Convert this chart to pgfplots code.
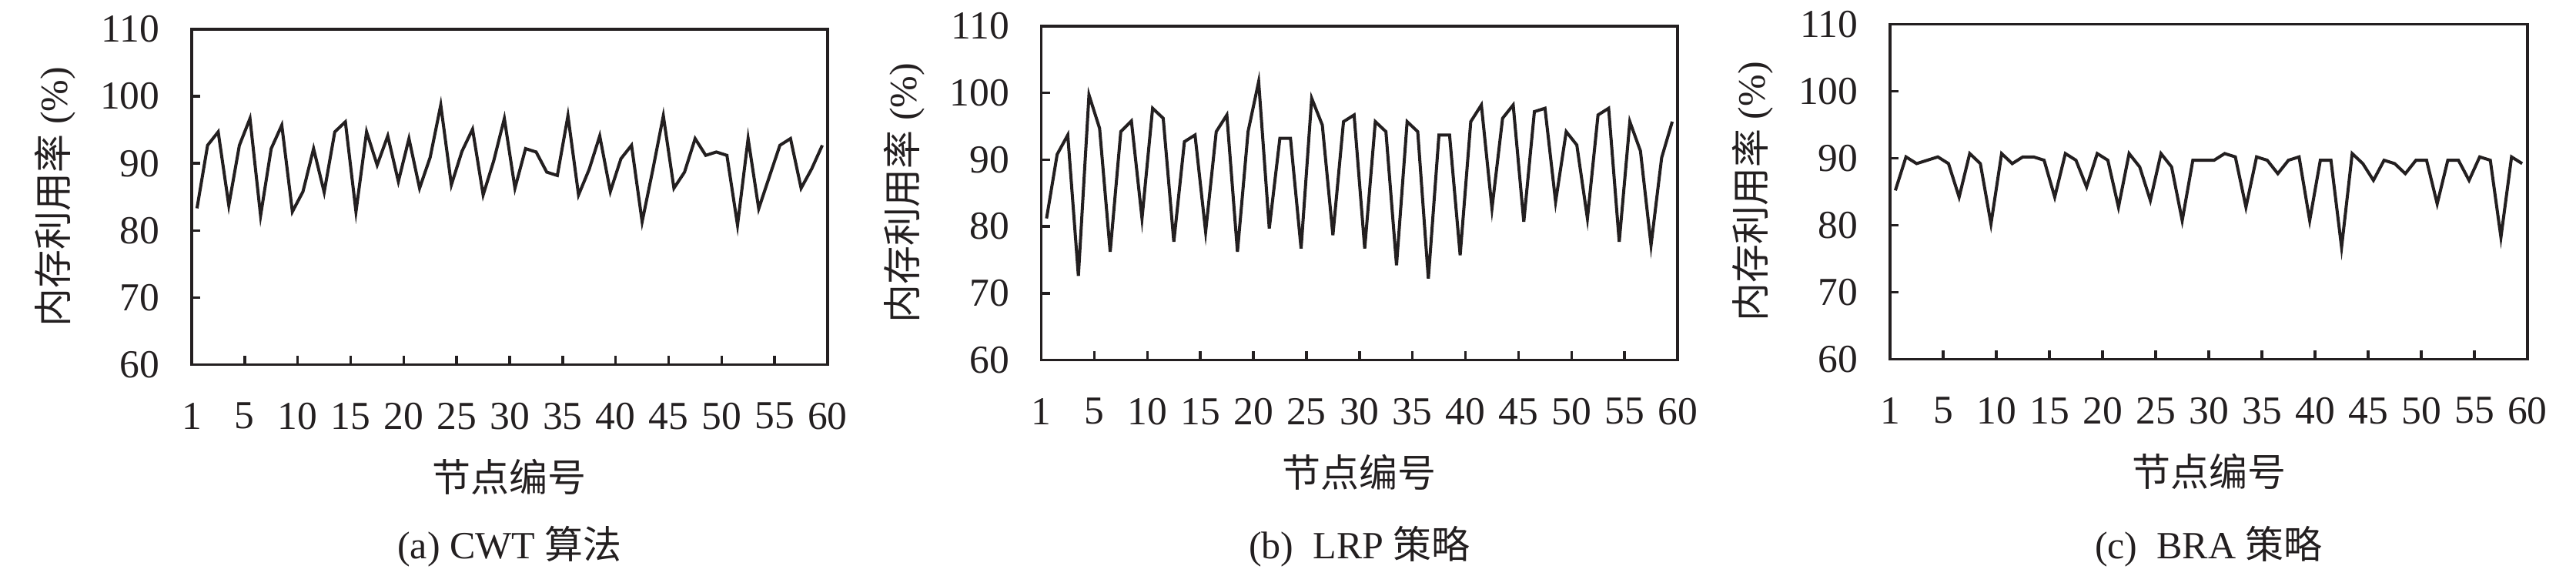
\documentclass[border=0pt]{standalone}
\usepackage{fontspec}
\setmainfont{Liberation Serif}
\newfontfamily\cjk{Noto Sans CJK SC}
\usepackage{pgfplots}
\usepackage{pgfplotstable}
\pgfplotsset{compat=1.18}
\definecolor{ink}{HTML}{231F20}

\pgfplotstableread{
x cwt lrp bra
1 83.3 81.2 85.2
2 92.7 90.8 90.2
3 94.7 93.7 89.2
4 83.75 72.6 89.7
5 92.7 99.7 90.2
6 96.7 94.7 89.2
7 82.2 76.2 84.2
8 92.2 94.2 90.7
9 95.7 95.8 89.2
10 82.8 81.2 80.2
11 85.8 97.7 90.7
12 92.2 96.2 89.2
13 85.7 77.7 90.2
14 94.7 92.7 90.2
15 96.2 93.7 89.7
16 82.8 79.2 84.2
17 94.7 94.2 90.7
18 89.75 96.7 89.7
19 94.1 76.2 85.7
20 87.3 94.2 90.7
21 93.7 101.7 89.7
22 86.3 79.7 82.7
23 90.9 93.2 90.7
24 98.7 93.2 88.7
25 86.8 76.7 83.7
26 91.8 99.2 90.7
27 95.1 95.2 88.7
28 85.3 78.7 80.7
29 90.4 95.7 89.7
30 96.7 96.7 89.7
31 86.3 76.7 89.7
32 92.2 95.7 90.7
33 91.7 94.2 90.2
34 88.7 74.2 82.7
35 88.2 95.7 90.2
36 97.1 94.2 89.7
37 85.3 72.2 87.7
38 89.1 93.7 89.7
39 94.1 93.7 90.2
40 85.8 75.7 80.7
41 90.7 95.7 89.7
42 92.7 98.2 89.7
43 81.3 82.7 76.7
44 89.0 96.2 90.7
45 97.1 98.2 89.2
46 86.3 80.7 86.7
47 88.7 97.2 89.7
48 93.7 97.7 89.2
49 91.2 83.7 87.7
50 91.7 94.2 89.7
51 91.2 92.2 89.7
52 80.8 81.2 83.2
53 93.7 96.7 89.7
54 83.25 97.7 89.7
55 88.0 77.7 86.7
56 92.7 95.7 90.2
57 93.7 91.3 89.7
58 86.3 77.2 78.2
59 89.2 90.3 90.2
60 92.7 95.7 89.2
}\memdata

\pgfplotsset{memstyle/.style={
  scale only axis,
  xmin=0.5, xmax=60.5, ymin=60, ymax=110,
  xtick={0.5,5.5,10.5,15.5,20.5,25.5,30.5,35.5,40.5,45.5,50.5,55.5,60.5},
  xticklabels={1,5,10,15,20,25,30,35,40,45,50,55,60},
  ytick={60,70,80,90,100,110},
  tick align=inside, xtick pos=bottom, ytick pos=left,
  major tick length=2.2pt,
  axis line style={line width=0.7pt, color=ink},
  every tick/.style={line width=0.7pt, color=ink},
  /pgf/number format/assume math mode=true,
  tick label style={font=\fontsize{10.3}{12}\selectfont, text=ink},
  xticklabel style={yshift=-6.4pt},
  yticklabel style={xshift=-4.8pt},
  label style={font=\fontsize{10}{12}\selectfont, text=ink},
  xlabel={\cjk 节点编号},
  ylabel={{\cjk 内存利用率} (\%)},
  xlabel style={at={(axis description cs:0.5,-0.336)}, anchor=center},
  ylabel style={at={(axis description cs:-0.215,0.5)}, anchor=center},
  clip=false,
}}

\begin{document}
\begin{tikzpicture}
\path[use as bounding box] (0,0) rectangle (669.2pt,149.6pt);

\begin{axis}[memstyle, at={(49.8pt,54.9pt)}, anchor=south west, width=165.2pt, height=87.1pt]
\addplot[ink, line width=0.8pt, mark=none] table[x=x, y=cwt] {\memdata};
\end{axis}

\begin{axis}[memstyle, at={(270.5pt,56.1pt)}, anchor=south west, width=165.3pt, height=86.7pt]
\addplot[ink, line width=0.8pt, mark=none] table[x=x, y=lrp] {\memdata};
\end{axis}

\begin{axis}[memstyle, at={(491pt,56.3pt)}, anchor=south west, width=165.6pt, height=87pt]
\addplot[ink, line width=0.8pt, mark=none] table[x=x, y=bra] {\memdata};
\end{axis}

\node[font=\fontsize{10}{12}\selectfont, text=ink] at (132.4pt,7.6pt) {(a) CWT {\cjk 算法}};
\node[font=\fontsize{10}{12}\selectfont, text=ink] at (353.2pt,7.6pt) {(b)\ \ LRP {\cjk 策略}};
\node[font=\fontsize{10}{12}\selectfont, text=ink] at (573.8pt,7.6pt) {(c)\ \ BRA {\cjk 策略}};
\end{tikzpicture}
\end{document}
